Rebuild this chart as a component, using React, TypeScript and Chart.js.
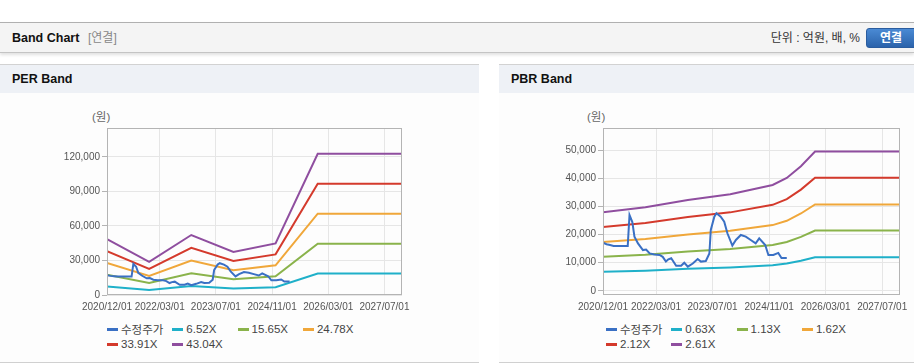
import React, { useEffect, useRef } from "react";
import { Chart, registerables } from "chart.js";

Chart.register(...registerables);

// ---------- data ----------
const X_TICK_MONTHS = [0, 15, 31, 47, 63, 79];
const X_TICK_LABELS = ["2020/12/01", "2022/03/01", "2023/07/01", "2024/11/01", "2026/03/01", "2027/07/01"];
const X_MAX_MONTH = 84;

// adjusted share price (수정주가), month offset from 2020/12
const PRICE_MONTHS = [0, 1, 2, 3, 5, 7, 7.5, 8.3, 8.9, 9.9, 11.3, 12.2, 13.2, 14.5, 16, 16.9, 17.8, 18.5, 19.3, 20.7, 22.1, 23, 24, 25.4, 26.8, 27.7, 29.1, 30.1, 30.5, 31.5, 32.1, 33.3, 34.3, 35.2, 36.6, 37.6, 39, 40.4, 41.8, 43.2, 44.2, 45.9, 46.8, 48.2, 49.6, 50.5, 52];
const PRICE_VALUES = [17100, 16600, 16300, 16000, 16000, 16000, 27000, 24500, 19300, 16900, 14500, 14700, 13300, 12900, 12750, 12100, 10400, 11200, 11600, 8900, 8900, 10000, 8600, 9700, 11300, 10400, 10600, 13300, 21700, 26400, 27600, 26400, 24600, 20500, 16100, 18100, 19900, 19300, 18100, 16900, 18700, 16300, 12750, 12750, 13500, 11700, 11700];

const PER_BAND_MONTHS = [0, 12, 24, 36, 48, 60, 84];
const PER_652 = [7335, 4368, 7889, 5672, 6781, 18582, 18582];
const PER_1565 = [17606, 10486, 18937, 13616, 16276, 44603, 44603];
const PER_2478 = [27878, 16603, 29984, 21559, 25771, 70623, 70623];
const PER_3391 = [38149, 22720, 41031, 29502, 35266, 96644, 96644];
const PER_4304 = [48420, 28837, 52078, 37445, 44762, 122664, 122664];
const PER_LABELS = ["수정주가", "6.52X", "15.65X", "24.78X", "33.91X", "43.04X"];
const PER_Y_TICKS = [0, 30000, 60000, 90000, 120000];

const PBR_BAND_MONTHS = [0, 12, 24, 36, 48, 52, 56, 60, 84];
const PBR_063 = [6760, 7182, 7812, 8303, 9104, 9702, 10710, 11970, 11970];
const PBR_113 = [12125, 12882, 14012, 14893, 16329, 17402, 19210, 21470, 21470];
const PBR_162 = [17383, 18468, 20088, 21352, 23409, 24948, 27540, 30780, 30780];
const PBR_212 = [22748, 24168, 26288, 27942, 30634, 32648, 36040, 40280, 40280];
const PBR_261 = [28005, 29754, 32364, 34400, 37715, 40194, 44370, 49590, 49590];
const PBR_LABELS = ["수정주가", "0.63X", "1.13X", "1.62X", "2.12X", "2.61X"];
const PBR_Y_TICKS = [0, 10000, 20000, 30000, 40000, 50000];

const COLORS = ["#3a70c4", "#1fb0c9", "#8ab34b", "#f0a73a", "#d43a2c", "#8f4e9f"];

const FONT = '"Liberation Sans", Arial, "Noto Sans CJK KR", sans-serif';
const TICK_FONT = '"Liberation Sans", Arial, sans-serif';

function pts(xs: number[], ys: number[]) {
  return xs.map((x, i) => ({ x, y: ys[i] }));
}

const borderPlugin = {
  id: "plotBorder",
  afterDatasetsDraw(chart: any) {
    const { ctx, chartArea } = chart;
    ctx.save();
    ctx.strokeStyle = "#b4b4b4";
    ctx.lineWidth = 1;
    ctx.strokeRect(
      Math.round(chartArea.left) + 0.5,
      Math.round(chartArea.top) + 0.5,
      Math.round(chartArea.right) - Math.round(chartArea.left) - 1,
      Math.round(chartArea.bottom) - Math.round(chartArea.top) - 1
    );
    ctx.restore();
  },
};

type BandProps = {
  left: number;
  top: number;
  width: number;
  height: number;
  yWidth: number;
  padRight: number;
  yMin: number;
  yMax: number;
  yTicks: number[];
  series: { label: string; data: { x: number; y: number }[] }[];
};

function BandChart(p: BandProps) {
  const ref = useRef<HTMLCanvasElement | null>(null);
  useEffect(() => {
    if (!ref.current) return;
    const chart = new Chart(ref.current, {
      type: "line",
      data: {
        datasets: p.series.map((s, i) => ({
          label: s.label,
          data: s.data,
          borderColor: COLORS[i],
          backgroundColor: COLORS[i],
          borderWidth: 2,
          pointRadius: 0,
          tension: 0,
          fill: false,
        })),
      },
      options: {
        animation: false,
        responsive: false,
        maintainAspectRatio: false,
        layout: { padding: { top: 28, right: p.padRight, left: 0, bottom: 0 } },
        plugins: { legend: { display: false }, tooltip: { enabled: false } },
        scales: {
          x: {
            type: "linear",
            min: 0,
            max: X_MAX_MONTH,
            afterBuildTicks: (s: any) => {
              s.ticks = X_TICK_MONTHS.map((v) => ({ value: v }));
            },
            afterFit: (s: any) => {
              s.height = 20;
            },
            ticks: {
              autoSkip: false,
              maxRotation: 0,
              padding: 6,
              color: "#555",
              font: { family: TICK_FONT, size: 10 },
              callback: (v: any) => {
                const i = X_TICK_MONTHS.indexOf(Number(v));
                return i >= 0 ? X_TICK_LABELS[i] : "";
              },
            },
            grid: { color: "#e6e6e6", drawTicks: false },
            border: { display: false },
          },
          y: {
            min: p.yMin,
            max: p.yMax,
            afterBuildTicks: (s: any) => {
              s.ticks = p.yTicks.map((v) => ({ value: v }));
            },
            afterFit: (s: any) => {
              s.width = p.yWidth;
            },
            ticks: {
              padding: 2,
              color: "#555",
              font: { family: TICK_FONT, size: 10 },
              callback: (v: any) => Number(v).toLocaleString("en-US"),
            },
            grid: { color: "#e6e6e6", tickLength: 5, tickColor: "#b4b4b4" },
            border: { display: false },
          },
        },
      } as any,
      plugins: [borderPlugin],
    });
    return () => chart.destroy();
  }, []);
  return (
    <div style={{ position: "absolute", left: p.left, top: p.top, width: p.width, height: p.height }}>
      <canvas ref={ref} width={p.width} height={p.height} style={{ display: "block", width: p.width, height: p.height }} />
    </div>
  );
}

function Legend({ left, labels }: { left: number; labels: string[] }) {
  const colW = 65.3;
  return (
    <>
      {labels.map((l, i) => {
        const row = Math.floor(i / 4);
        const col = i % 4;
        return (
          <div
            key={l}
            style={{
              position: "absolute",
              left: left + col * colW,
              top: 322 + row * 15,
              height: 14,
              display: "flex",
              alignItems: "center",
              whiteSpace: "nowrap",
              font: `11.5px ${FONT}`,
              color: "#444",
            }}
          >
            <span style={{ display: "inline-block", width: 11, height: 3, background: COLORS[i], marginRight: 3 }} />
            <span>{l}</span>
          </div>
        );
      })}
    </>
  );
}

function Panel({ left, width, title }: { left: number; width: number; title: string }) {
  return (
    <div style={{ position: "absolute", left, top: 64, width, height: 299 }}>
      <div
        style={{
          position: "absolute",
          left: 0,
          top: 0,
          width,
          height: 29,
          background: "#eef1f6",
          borderTop: "1px solid #d2d2d2",
          boxSizing: "border-box",
        }}
      />
      <div style={{ position: "absolute", left: 0, top: 29, width, height: 269, background: "#fdfdfd" }} />
      <div style={{ position: "absolute", left: 0, top: 298, width, height: 1, background: "#d0d0d0" }} />
      <div
        style={{
          position: "absolute",
          left: 12,
          top: 8,
          font: `bold 12.5px ${FONT}`,
          color: "#111",
          lineHeight: "15px",
        }}
      >
        {title}
      </div>
    </div>
  );
}

export default function App() {
  const perSeries = [
    { label: PER_LABELS[0], data: pts(PRICE_MONTHS, PRICE_VALUES) },
    { label: PER_LABELS[1], data: pts(PER_BAND_MONTHS, PER_652) },
    { label: PER_LABELS[2], data: pts(PER_BAND_MONTHS, PER_1565) },
    { label: PER_LABELS[3], data: pts(PER_BAND_MONTHS, PER_2478) },
    { label: PER_LABELS[4], data: pts(PER_BAND_MONTHS, PER_3391) },
    { label: PER_LABELS[5], data: pts(PER_BAND_MONTHS, PER_4304) },
  ];
  const pbrSeries = [
    { label: PBR_LABELS[0], data: pts(PRICE_MONTHS, PRICE_VALUES) },
    { label: PBR_LABELS[1], data: pts(PBR_BAND_MONTHS, PBR_063) },
    { label: PBR_LABELS[2], data: pts(PBR_BAND_MONTHS, PBR_113) },
    { label: PBR_LABELS[3], data: pts(PBR_BAND_MONTHS, PBR_162) },
    { label: PBR_LABELS[4], data: pts(PBR_BAND_MONTHS, PBR_212) },
    { label: PBR_LABELS[5], data: pts(PBR_BAND_MONTHS, PBR_261) },
  ];
  return (
    <div style={{ position: "absolute", left: 0, top: 0, width: 914, height: 364, background: "#fff", overflow: "hidden" }}>
      {/* header bar */}
      <div
        style={{
          position: "absolute",
          left: 0,
          top: 22,
          width: 914,
          height: 31,
          background: "#f4f4f4",
          borderTop: "1px solid #b0b0b0",
          borderBottom: "1px solid #c4c4c4",
          boxSizing: "border-box",
          boxShadow: "0 2px 3px rgba(0,0,0,0.12)",
        }}
      />
      <div style={{ position: "absolute", left: 12, top: 30, font: `bold 12.5px ${FONT}`, color: "#111", lineHeight: "16px" }}>
        Band Chart
      </div>
      <div style={{ position: "absolute", left: 88, top: 31, font: `12px ${FONT}`, color: "#888", lineHeight: "15px" }}>[연결]</div>
      <div
        style={{
          position: "absolute",
          right: 54,
          top: 31,
          font: `12px ${FONT}`,
          color: "#333",
          lineHeight: "15px",
          whiteSpace: "nowrap",
        }}
      >
        단위 : 억원, 배, %
      </div>
      <div
        style={{
          position: "absolute",
          left: 866,
          top: 28,
          width: 52,
          height: 20,
          borderRadius: 3,
          background: "linear-gradient(#4a8ad4, #2b63ab)",
          border: "1px solid #2a5c9e",
          boxSizing: "border-box",
          color: "#fff",
          font: `bold 12px ${FONT}`,
          lineHeight: "18px",
          paddingLeft: 13,
        }}
      >
        연결
      </div>

      <Panel left={0} width={479} title="PER Band" />
      <Panel left={499} width={415} title="PBR Band" />

      <div style={{ position: "absolute", left: 92, top: 110, font: `11.5px ${FONT}`, color: "#666", lineHeight: "14px" }}>(원)</div>
      <div style={{ position: "absolute", left: 587, top: 110, font: `11.5px ${FONT}`, color: "#666", lineHeight: "14px" }}>(원)</div>

      <BandChart
        left={0}
        top={100}
        width={420}
        height={215}
        yWidth={107}
        padRight={18}
        yMin={0}
        yMax={145000}
        yTicks={PER_Y_TICKS}
        series={perSeries}
      />
      <BandChart
        left={499}
        top={100}
        width={415}
        height={215}
        yWidth={104}
        padRight={13}
        yMin={-1500}
        yMax={58000}
        yTicks={PBR_Y_TICKS}
        series={pbrSeries}
      />

      <Legend left={107} labels={PER_LABELS} />
      <Legend left={606} labels={PBR_LABELS} />
    </div>
  );
}
